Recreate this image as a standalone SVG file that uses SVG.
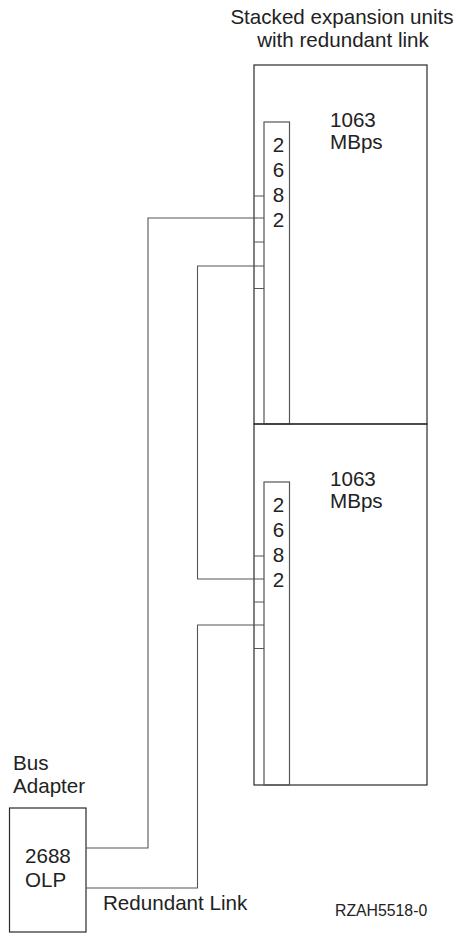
<svg xmlns="http://www.w3.org/2000/svg" width="457" height="934" viewBox="0 0 457 934">
<style>
text{font-family:"Liberation Sans",Arial,sans-serif;fill:#222;font-size:20.6px}
.box{fill:none;stroke:#2a2a2a;stroke-width:1.2}
.card{fill:none;stroke:#555;stroke-width:1.2}
.tick{stroke:#555;stroke-width:1}
.conn{fill:none;stroke:#555;stroke-width:1.1}
.small{font-size:15.8px}
</style>
<rect width="457" height="934" fill="#fff"/>
<g id="title">
<text x="342" y="24" text-anchor="middle">Stacked expansion units</text>
<text x="343" y="47" text-anchor="middle">with redundant link</text>
</g>
<g id="upper-unit">
<rect class="box" x="254" y="65" width="173" height="359"/>
<rect class="card" x="264" y="122" width="25.5" height="302"/>
<text x="278.5" y="152" text-anchor="middle">2</text>
<text x="278.5" y="177" text-anchor="middle">6</text>
<text x="278.5" y="202" text-anchor="middle">8</text>
<text x="278.5" y="227" text-anchor="middle">2</text>
<line class="tick" x1="254" y1="196" x2="264" y2="196"/>
<line class="tick" x1="254" y1="242" x2="264" y2="242"/>
<line class="tick" x1="254" y1="288.5" x2="264" y2="288.5"/>
<text x="330" y="127">1063</text>
<text x="330" y="149">MBps</text>
</g>
<g id="lower-unit">
<rect class="box" x="254" y="424" width="173" height="361"/>
<rect class="card" x="264" y="482" width="25.5" height="303"/>
<text x="278.5" y="512" text-anchor="middle">2</text>
<text x="278.5" y="537" text-anchor="middle">6</text>
<text x="278.5" y="562" text-anchor="middle">8</text>
<text x="278.5" y="587" text-anchor="middle">2</text>
<line class="tick" x1="254" y1="556" x2="264" y2="556"/>
<line class="tick" x1="254" y1="602" x2="264" y2="602"/>
<line class="tick" x1="254" y1="648.5" x2="264" y2="648.5"/>
<text x="330" y="486">1063</text>
<text x="330" y="508">MBps</text>
</g>
<g id="bus-adapter">
<text x="13" y="770">Bus</text>
<text x="13" y="793">Adapter</text>
<rect class="box" x="9.5" y="808" width="76.5" height="124"/>
<text x="25" y="863">2688</text>
<text x="25" y="887">OLP</text>
</g>
<g id="connectors">
<polyline class="conn" points="86,848 148,848 148,218 264,218"/>
<polyline class="conn" points="264,266 197.5,266 197.5,579 264,579"/>
<polyline class="conn" points="264,625 197.5,625 197.5,888 86,888"/>
</g>
<g id="labels">
<text x="103" y="910">Redundant Link</text>
<text class="small" x="335" y="916">RZAH5518-0</text>
</g>
</svg>
